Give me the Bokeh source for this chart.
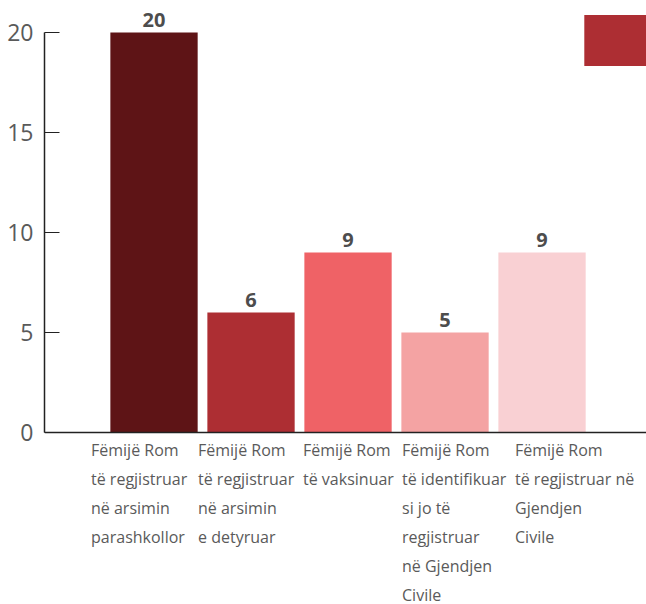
from bokeh.plotting import figure
from bokeh.models import ColumnDataSource, Range1d, FixedTicker, Legend, LegendItem, Span
from bokeh.core.properties import value
from bokeh.embed import file_html
from bokeh.resources import INLINE

# ---- data ----
categories = [
    "Fëmijë Rom\ntë regjistruar\nnë arsimin\nparashkollor",
    "Fëmijë Rom\ntë regjistruar\nnë arsimin\ne detyruar",
    "Fëmijë Rom\ntë vaksinuar",
    "Fëmijë Rom\ntë identifikuar\nsi jo të\nregjistruar\nnë Gjendjen\nCivile",
    "Fëmijë Rom\ntë regjistruar në\nGjendjen\nCivile",
]
values = [20, 6, 9, 5, 9]
y_ticks = [0, 5, 10, 15, 20]

# ---- styles ----
colors = ["#5e1416", "#ad2e33", "#ef6266", "#f4a3a3", "#f9d0d3"]
label_x_offsets = [-63, -53, -45, -43, -27]   # px, left edge of each label block
FONT = "Open Sans"
first_line_offset = 17   # px below the axis
line_step = 29           # px between label lines

xs = list(range(len(values)))
src = ColumnDataSource(dict(x=xs, top=values, color=colors,
                            lab=[str(v) for v in values]))

# one row per label line
lx, ltext, lxo, lyo = [], [], [], []
for i, cat in enumerate(categories):
    for k, line in enumerate(cat.split("\n")):
        lx.append(xs[i])
        ltext.append(line)
        lxo.append(label_x_offsets[i])
        lyo.append(first_line_offset + line_step * k)
lsrc = ColumnDataSource(dict(x=lx, y=[0] * len(lx), text=ltext, xo=lxo, yo=lyo))

p = figure(width=646, height=604, output_backend="svg", toolbar_location=None,
           x_range=Range1d(-1.129, 5.077), y_range=Range1d(-8.6, 21.6),
           min_border_left=44, min_border_right=0, min_border_top=0,
           min_border_bottom=0)
p.outline_line_color = None
p.xgrid.visible = False
p.ygrid.visible = False
p.xaxis.visible = False
p.background_fill_color = "white"
p.border_fill_color = "white"

bars = p.vbar(x="x", top="top", width=0.9, bottom=0, color="color",
              line_color=None, source=src)

p.text(x="x", y="top", text="lab", source=src, text_align="center",
       text_baseline="alphabetic", y_offset=-13,
       text_font=value(FONT), text_font_style="bold",
       text_font_size="20px", text_color="#4d4d4d")

# x axis line at zero
p.add_layout(Span(location=0, dimension="width", line_color="#222222", line_width=1.5))

# category labels
p.text(x="x", y="y", text="text", x_offset="xo", y_offset="yo", source=lsrc,
       text_align="left", text_baseline="alphabetic",
       text_font=value(FONT), text_font_size="16px", text_color="#5a5a5a")

# y axis
ya = p.yaxis[0]
ya.ticker = FixedTicker(ticks=y_ticks)
ya.bounds = (0, 20)
ya.major_tick_in = 15
ya.major_tick_out = 0
ya.minor_tick_line_color = None
ya.axis_line_color = "#222222"
ya.axis_line_width = 1.5
ya.major_tick_line_color = "#222222"
ya.major_tick_line_width = 1
ya.major_label_standoff = 11
ya.major_label_text_font = FONT
ya.major_label_text_font_size = "23px"
ya.major_label_text_color = "#5a5a5a"

# partially visible legend swatch (top right)
legend = Legend(items=[LegendItem(label="1", renderers=[bars], index=1)],
                location=(532, 532), glyph_width=78, glyph_height=64,
                padding=0, margin=0, spacing=0, border_line_color=None,
                background_fill_alpha=0, label_text_color="white",
                label_text_font=FONT, label_standoff=0)
p.add_layout(legend)

open("out.html", "w").write(file_html(p, INLINE))
